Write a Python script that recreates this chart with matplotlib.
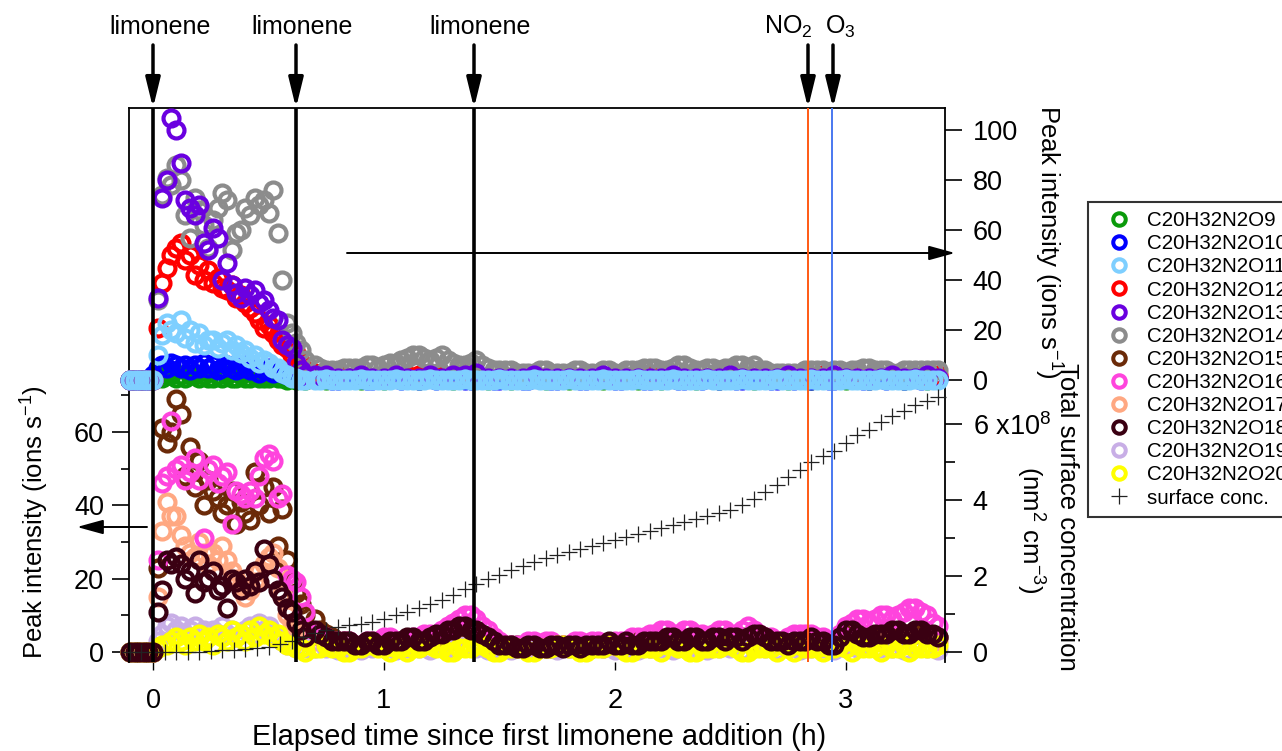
import numpy as np
import matplotlib
matplotlib.use("Agg")
import matplotlib.pyplot as plt
from matplotlib.lines import Line2D

plt.rcParams["font.family"] = ["Liberation Sans", "DejaVu Sans"]
plt.rcParams["mathtext.fontset"] = "custom"
plt.rcParams["mathtext.rm"] = "Liberation Sans"
plt.rcParams["mathtext.it"] = "Liberation Sans:italic"
plt.rcParams["mathtext.bf"] = "Liberation Sans:bold"

W, H = 1282, 751

# --- time grids (h since first limonene addition) ---
t_pre = [-0.10, -0.08, -0.06, -0.04, -0.02]
t_early = [0.00, 0.02, 0.04, 0.06, 0.08, 0.10, 0.12, 0.14, 0.16, 0.18,
           0.20, 0.22, 0.24, 0.26, 0.28, 0.30, 0.32, 0.34, 0.36, 0.38,
           0.40, 0.42, 0.44, 0.46, 0.48, 0.50, 0.52, 0.54, 0.56, 0.58,
           0.60, 0.62, 0.64, 0.66]
t_late = [0.70, 0.75, 0.80, 0.85, 0.90, 0.95, 1.00, 1.05, 1.10, 1.15, 1.20,
          1.25, 1.30, 1.35, 1.40, 1.45, 1.50, 1.55, 1.60, 1.65, 1.70, 1.75,
          1.80, 1.85, 1.90, 1.95, 2.00, 2.05, 2.10, 2.15, 2.20, 2.25, 2.30,
          2.35, 2.40, 2.45, 2.50, 2.55, 2.60, 2.65, 2.70, 2.75, 2.80, 2.85,
          2.90, 2.95, 3.00, 3.05, 3.10, 3.15, 3.20, 3.25, 3.30, 3.35, 3.40]
# extra samples in between, only read for the series that form the dense bands
t_mid = [0.725, 0.775, 0.825, 0.875, 0.925, 0.975, 1.025, 1.075, 1.125, 1.175, 1.225,
         1.275, 1.325, 1.375, 1.425, 1.475, 1.525, 1.575, 1.625, 1.675, 1.725, 1.775,
         1.825, 1.875, 1.925, 1.975, 2.025, 2.075, 2.125, 2.175, 2.225, 2.275, 2.325,
         2.375, 2.425, 2.475, 2.525, 2.575, 2.625, 2.675, 2.725, 2.775, 2.825, 2.875,
         2.925, 2.975, 3.025, 3.075, 3.125, 3.175, 3.225, 3.275, 3.325, 3.375]
pre_zero = [0, 0, 0, 0, 0]

# --- upper panel species (ions s-1) ---
o9_early = [1, 2, 1, 2, 2, 1, 2, 1, 2, 2, 1, 2, 1, 1, 2, 1, 2, 1, 1, 2,
            1, 1, 2, 1, 1, 1, 2, 1, 1, 0, 1, 0, 1, 0]
o9_late = [1, 0, 1, 1, 0, 1, 0, 1, 1, 0, 1,
           1, 0, 1, 1, 0, 1, 0, 1, 1, 0, 1,
           0, 1, 1, 0, 1, 1, 0, 1, 0, 1, 1,
           0, 1, 0, 1, 1, 0, 1, 1, 0, 1, 0,
           1, 1, 0, 1, 0, 1, 1, 0, 1, 0, 1]
o10_early = [2, 5, 6, 5, 7, 6, 5, 6, 4, 6, 5, 7, 5, 6, 4, 5, 6, 5, 4, 5,
             6, 4, 5, 3, 4, 5, 3, 4, 3, 2, 2, 1, 1, 1]
o10_late = [1, 1, 0, 1, 1, 0, 1, 1, 1, 0, 1,
            1, 1, 0, 1, 1, 0, 1, 0, 1, 1, 0,
            1, 0, 1, 1, 0, 1, 1, 0, 1, 1, 0,
            1, 1, 0, 1, 0, 1, 1, 0, 1, 1, 0,
            1, 0, 1, 1, 0, 1, 1, 0, 1, 1, 1]
o10_mid = [1, 0, 1, 1, 0, 1, 1, 0, 1, 1, 0,
           1, 1, 0, 1, 0, 1, 1, 0, 1, 0, 1,
           1, 0, 1, 1, 0, 1, 0, 1, 1, 0, 1,
           0, 1, 1, 0, 1, 1, 0, 1, 0, 1, 1,
           0, 1, 1, 0, 1, 0, 1, 1, 0, 1]
o11_early = [0, 10, 18, 23, 20, 19, 24, 17, 20, 15, 19, 14, 16, 16, 13, 15, 16, 12, 14, 11,
             12, 9, 10, 7, 8, 7, 5, 5, 3, 2, 1, 1, 0, 0]
o11_late = [0, 0.3, 0, 0, 0.3, 0, 0, 0.3, 0, 0, 0.3,
            0, 0, 0.3, 0, 0, 0.3, 0, 0, 0.3, 0, 0,
            0.3, 0, 0, 0.3, 0, 0, 0.3, 0, 0, 0.3, 0,
            0, 0.3, 0, 0, 0.3, 0, 0, 0.3, 0, 0, 0.3,
            0, 0, 0.3, 0, 0, 0.3, 0, 0, 0.3, 0, 0]
o11_mid = [0.2, 0, 0, 0.2, 0, 0, 0.2, 0, 0, 0.2, 0,
           0, 0.2, 0, 0, 0.2, 0, 0, 0.2, 0, 0, 0.2,
           0, 0, 0.2, 0, 0, 0.2, 0, 0, 0.2, 0, 0,
           0.2, 0, 0, 0.2, 0, 0, 0.2, 0, 0, 0.2, 0,
           0, 0.2, 0, 0, 0.2, 0, 0, 0.2, 0, 0]
o12_early = [0, 21, 39, 45, 50, 53, 55, 48, 50, 42, 46, 40, 44, 39, 41, 37, 36, 38, 33, 34,
             31, 29, 27, 24, 21, 22, 19, 16, 14, 13, 10, 11, 7, 4]
o12_late = [3, 2, 2, 1, 2, 1, 2, 1, 2, 2, 1,
            2, 2, 3, 2, 1, 1, 1, 2, 1, 1, 1,
            2, 1, 1, 1, 2, 1, 1, 2, 1, 1, 2,
            1, 1, 2, 1, 1, 1, 2, 1, 1, 1, 1,
            2, 1, 1, 2, 1, 1, 2, 1, 1, 1, 2]
o13_early = [0, 33, 73, 80, 105, 100, 87, 72, 69, 66, 70, 55, 52, 61, 57, 40, 47, 38, 35, 33,
             37, 34, 36, 31, 32, 28, 25, 24, 16, 14, 13, 7, 4, 2]
o13_late = [2, 2, 1, 1, 2, 1, 1, 2, 1, 1, 2,
            1, 2, 2, 3, 1, 1, 1, 1, 2, 1, 1,
            1, 1, 1, 2, 1, 1, 1, 1, 1, 2, 1,
            1, 1, 1, 2, 1, 1, 1, 1, 2, 1, 1,
            1, 2, 1, 1, 1, 1, 2, 1, 1, 2, 1]
o14_early = [0, 32, 74, 81, 78, 86, 80, 66, 57, 73, 68, 62, 53, 64, 69, 75, 72, 52, 59, 60,
             69, 66, 73, 70, 72, 67, 76, 59, 40, 23, 19, 15, 12, 8]
o14_late = [6, 4, 4, 5, 5, 6, 6, 7, 9, 10, 8,
            10, 7, 6, 8, 5, 4, 4, 3, 3, 4, 3,
            3, 4, 3, 4, 3, 4, 4, 5, 4, 5, 6,
            4, 5, 4, 5, 6, 6, 4, 3, 3, 3, 4,
            4, 4, 3, 4, 5, 4, 3, 4, 4, 4, 4]
o14_mid = [5, 4, 5, 5, 6, 5, 7, 8, 10, 9, 9,
           8, 6, 7, 6, 4, 4, 3, 3, 4, 3, 3,
           4, 3, 3, 4, 3, 4, 5, 5, 4, 6, 5,
           4, 5, 5, 6, 5, 4, 3, 3, 3, 4, 4,
           3, 4, 4, 5, 4, 4, 3, 4, 4, 4]

# --- lower panel species (ions s-1) ---
o15_early = [0, 23, 61, 57, 60, 69, 65, 48, 56, 45, 52, 40, 47, 44, 42, 38, 40, 44, 35, 41,
             38, 36, 49, 40, 45, 38, 45, 29, 39, 25, 19, 16, 13, 10]
o15_late = [9, 5, 3, 3, 2, 2, 2, 3, 3, 3, 3,
            4, 5, 6, 5, 4, 2, 2, 2, 1, 2, 1,
            2, 2, 1, 2, 2, 2, 3, 2, 3, 3, 3,
            3, 3, 3, 3, 4, 3, 4, 3, 2, 2, 3,
            3, 2, 4, 5, 4, 4, 4, 5, 5, 5, 4]
o15_mid = [6, 4, 3, 2, 2, 3, 2, 3, 3, 3, 4,
           5, 6, 5, 4, 3, 2, 2, 1, 2, 1, 2,
           2, 1, 2, 2, 2, 3, 2, 3, 3, 3, 3,
           3, 3, 3, 4, 3, 4, 3, 3, 2, 2, 3,
           3, 3, 5, 4, 4, 4, 5, 5, 5, 4]
o16_early = [0, 25, 46, 48, 63, 50, 51, 47, 49, 53, 47, 31, 50, 51, 46, 48, 49, 35, 44, 43,
             42, 44, 42, 48, 53, 54, 52, 42, 43, 21, 20, 19, 15, 11]
o16_late = [5, 4, 3, 3, 2, 3, 4, 3, 3, 4, 5,
            6, 8, 10, 9, 6, 3, 2, 2, 3, 3, 2,
            2, 3, 3, 2, 3, 3, 4, 5, 6, 5, 6,
            5, 4, 6, 5, 6, 6, 4, 3, 4, 5, 5,
            4, 3, 7, 9, 8, 10, 9, 11, 12, 10, 7]
o16_mid = [4, 3, 3, 2, 3, 3, 4, 3, 4, 5, 5,
           7, 9, 10, 7, 4, 2, 2, 3, 2, 3, 2,
           3, 2, 3, 2, 3, 4, 4, 5, 6, 5, 6,
           5, 5, 6, 5, 7, 5, 4, 3, 5, 5, 4,
           3, 5, 8, 9, 9, 10, 10, 12, 11, 8]
o17_early = [0, 15, 33, 41, 37, 37, 32, 29, 27, 26, 30, 27, 24, 27, 25, 29, 25, 22, 20, 18,
             15, 17, 19, 22, 24, 26, 27, 23, 16, 10, 8, 6, 5, 3]
o17_late = [3, 2, 2, 1, 1, 2, 1, 2, 2, 2, 2,
            3, 3, 4, 3, 2, 1, 1, 1, 1, 1, 1,
            1, 1, 1, 1, 1, 1, 2, 1, 2, 2, 2,
            2, 2, 2, 2, 3, 2, 2, 2, 1, 1, 2,
            2, 1, 2, 3, 3, 3, 3, 4, 3, 4, 3]
o18_early = [0, 11, 17, 25, 24, 26, 24, 20, 22, 16, 25, 19, 20, 22, 17, 18, 12, 20, 19, 17,
             20, 18, 22, 19, 28, 24, 20, 17, 15, 12, 11, 8, 6, 4]
o18_late = [6, 4, 3, 3, 2, 3, 2, 3, 4, 3, 4,
            5, 6, 7, 6, 4, 2, 2, 1, 2, 1, 2,
            2, 1, 2, 2, 2, 3, 2, 3, 3, 4, 3,
            4, 3, 4, 4, 3, 5, 4, 3, 2, 3, 4,
            3, 2, 6, 5, 4, 5, 6, 5, 6, 5, 4]
o18_mid = [5, 3, 3, 2, 3, 2, 3, 3, 4, 3, 5,
           6, 7, 6, 5, 3, 2, 1, 2, 1, 2, 1,
           2, 2, 2, 3, 2, 2, 3, 3, 4, 3, 4,
           3, 4, 3, 4, 4, 5, 3, 3, 3, 3, 3,
           2, 4, 6, 4, 5, 5, 6, 5, 6, 5]
o19_early = [0, 3, 5, 7, 8, 6, 7, 5, 6, 7, 5, 6, 4, 6, 5, 7, 5, 6, 4, 5,
             6, 7, 5, 8, 6, 7, 5, 4, 3, 2, 2, 1, 1, 1]
o19_late = [1, 1, 0.5, 1, 0.5, 1, 1, 0.5, 1, 1, 0.5,
            1, 1, 1.5, 1, 0.5, 1, 0.5, 1, 0.5, 1, 0.5,
            1, 0.5, 1, 1, 0.5, 1, 0.5, 1, 1, 0.5, 1,
            1, 0.5, 1, 1, 0.5, 1, 1, 0.5, 1, 0.5, 1,
            1, 0.5, 1, 1, 1.5, 1, 1, 0.5, 1, 1, 0.5]
o20_early = [0, 1, 2, 2, 3, 4, 3, 2, 4, 3, 5, 3, 4, 2, 5, 4, 3, 6, 4, 5,
             3, 6, 4, 7, 5, 6, 4, 5, 3, 2, 2, 1, 1, 0]
o20_late = [1, 2, 1, 0, 1, 2, 1, 1, 0, 1, 2,
            1, 0, 1, 2, 1, 0, 1, 1, 0, 1, 2,
            1, 0, 1, 1, 2, 0, 1, 1, 0, 2, 1,
            0, 1, 1, 2, 0, 1, 1, 0, 1, 2, 1,
            0, 1, 1, 2, 1, 0, 1, 2, 1, 1, 2]
o20_mid = [1, 1, 0, 1, 2, 1, 0, 1, 1, 2, 1,
           0, 1, 1, 2, 0, 1, 1, 0, 1, 1, 2,
           1, 0, 1, 2, 1, 0, 1, 1, 2, 1, 0,
           1, 1, 2, 1, 0, 1, 1, 2, 0, 1, 1,
           1, 2, 0, 1, 1, 2, 1, 0, 1, 1]

# --- total surface concentration (x1e8 nm2 cm-3) ---
t_sc = [-0.10, -0.05, 0.00, 0.05, 0.10, 0.15, 0.20, 0.25, 0.30, 0.35, 0.40,
        0.45, 0.50, 0.55, 0.60, 0.65, 0.70, 0.75, 0.80, 0.85, 0.90, 0.95,
        1.00, 1.05, 1.10, 1.15, 1.20, 1.25, 1.30, 1.35, 1.40, 1.45, 1.50,
        1.55, 1.60, 1.65, 1.70, 1.75, 1.80, 1.85, 1.90, 1.95, 2.00, 2.05,
        2.10, 2.15, 2.20, 2.25, 2.30, 2.35, 2.40, 2.45, 2.50, 2.55, 2.60,
        2.65, 2.70, 2.75, 2.80, 2.85, 2.90, 2.95, 3.00, 3.05, 3.10, 3.15,
        3.20, 3.25, 3.30, 3.35, 3.40]
surface_conc = [0, 0, 0, 0, 0, 0, 0.01, 0.02, 0.04, 0.06, 0.08,
                0.10, 0.13, 0.20, 0.30, 0.40, 0.50, 0.58, 0.65, 0.70, 0.75, 0.80,
                0.88, 0.97, 1.06, 1.16, 1.26, 1.38, 1.50, 1.65, 1.80, 1.92, 2.04,
                2.15, 2.26, 2.37, 2.47, 2.56, 2.64, 2.72, 2.80, 2.88, 2.95, 3.03,
                3.10, 3.18, 3.26, 3.34, 3.42, 3.50, 3.58, 3.66, 3.75, 3.88, 4.02,
                4.20, 4.40, 4.60, 4.80, 5.00, 5.15, 5.30, 5.50, 5.70, 5.85, 6.05,
                6.20, 6.35, 6.50, 6.60, 6.70]

# event times (h)
limonene_times = [0.0, 0.62, 1.39]
no2_time = 2.835
o3_time = 2.94

top_names = ["C20H32N2O9", "C20H32N2O10", "C20H32N2O11",
             "C20H32N2O12", "C20H32N2O13", "C20H32N2O14"]
bottom_names = ["C20H32N2O15", "C20H32N2O16", "C20H32N2O17",
                "C20H32N2O18", "C20H32N2O19", "C20H32N2O20"]
colors = {
    "C20H32N2O9": "#0A9A0A", "C20H32N2O10": "#0000FF", "C20H32N2O11": "#7ECFFF",
    "C20H32N2O12": "#FF0000", "C20H32N2O13": "#6A00E0", "C20H32N2O14": "#8C8C8C",
    "C20H32N2O15": "#6B2A08", "C20H32N2O16": "#FF44DD", "C20H32N2O17": "#FFA882",
    "C20H32N2O18": "#3A0012", "C20H32N2O19": "#C8AEE6", "C20H32N2O20": "#FFFF00",
}


def build(early, late, mid=None):
    t = np.concatenate([t_pre, t_early, t_late])
    y = np.concatenate([pre_zero, early, late])
    if mid is not None:
        t = np.concatenate([t, t_mid])
        y = np.concatenate([y, mid])
    return t, y


top_series = {
    "C20H32N2O9": build(o9_early, o9_late),
    "C20H32N2O10": build(o10_early, o10_late, o10_mid),
    "C20H32N2O11": build(o11_early, o11_late, o11_mid),
    "C20H32N2O12": build(o12_early, o12_late),
    "C20H32N2O13": build(o13_early, o13_late),
    "C20H32N2O14": build(o14_early, o14_late, o14_mid),
}
bottom_series = {
    "C20H32N2O15": build(o15_early, o15_late, o15_mid),
    "C20H32N2O16": build(o16_early, o16_late, o16_mid),
    "C20H32N2O17": build(o17_early, o17_late),
    "C20H32N2O18": build(o18_early, o18_late, o18_mid),
    "C20H32N2O19": build(o19_early, o19_late),
    "C20H32N2O20": build(o20_early, o20_late, o20_mid),
}


def fx(x):
    return x / W


def fy(y):
    return 1 - y / H


fig = plt.figure(figsize=(W / 100, H / 100), dpi=100)
ax = fig.add_axes([fx(129), fy(662), fx(945) - fx(129), fy(108) - fy(662)])
ax_top = ax.twinx()
ax_sc = ax.twinx()

marker_kw = dict(linestyle="none", marker="o", mfc="none", ms=11.5, mew=3.0, clip_on=False)

# lower panel, drawn so that the darkest series ends up on top
for name in ["C20H32N2O15", "C20H32N2O17", "C20H32N2O16",
             "C20H32N2O19", "C20H32N2O20", "C20H32N2O18"]:
    t, y = bottom_series[name]
    ax.plot(t, y, mec=colors[name], **marker_kw)

# upper panel
for name in ["C20H32N2O9", "C20H32N2O10", "C20H32N2O12",
             "C20H32N2O14", "C20H32N2O13", "C20H32N2O11"]:
    t, y = top_series[name]
    ax_top.plot(t, y, mec=colors[name], **marker_kw)

ax_sc.plot(t_sc, surface_conc, linestyle="none", marker="+", ms=11, mew=0.9,
           color="#222222", clip_on=False)

for t in limonene_times:
    ax_sc.axvline(t, color="black", lw=2.6, zorder=5)
ax_sc.axvline(no2_time, color="#FF5A14", lw=1.4, zorder=5)
ax_sc.axvline(o3_time, color="#4A78F0", lw=1.4, zorder=5)

# limits: one frame, three y scales
ax.set_xlim(-0.104, 3.429)
ax.set_ylim(-2.73, 148.4)
ax_top.set_ylim(-112.8, 108.8)
ax_sc.set_ylim(-0.263, 14.32)

ax.set_xticks([0, 1, 2, 3])
ax.tick_params(axis="x", direction="out", length=6, width=1, pad=13, labelsize=19.5)
ax.set_yticks([0, 20, 40, 60])
ax.set_yticks([10, 30, 50, 70], minor=True)
ax.tick_params(axis="y", which="major", direction="out", length=12, width=1.2,
               labelsize=19.5, pad=6)
ax.tick_params(axis="y", which="minor", direction="out", length=6, width=1.2)

ax_top.set_yticks([0, 20, 40, 60, 80, 100])
ax_top.tick_params(axis="y", which="major", direction="out", length=12, width=1.2,
                   labelsize=19.5, pad=8)

ax_sc.set_yticks([0, 2, 4, 6])
ax_sc.set_yticklabels(["0", "2", "4", "6 x10$^{8}$"])
ax_sc.set_yticks([1, 3, 5], minor=True)
ax_sc.tick_params(axis="y", which="major", direction="out", length=12, width=1.2,
                  labelsize=19.5, pad=8)
ax_sc.tick_params(axis="y", which="minor", direction="out", length=7, width=1.2)

ax.spines["bottom"].set_visible(False)
for s in ["left", "top", "right"]:
    ax.spines[s].set_linewidth(1.3)
for a in [ax_top, ax_sc]:
    for s in a.spines.values():
        s.set_visible(False)

# axis titles
fig.text(fx(539), fy(737), "Elapsed time since first limonene addition (h)",
         ha="center", va="center", fontsize=20.8)
fig.text(fx(35), fy(522), "Peak intensity (ions s$^{-1}$)", rotation=90,
         ha="center", va="center", fontsize=18.5)
fig.text(fx(1048), fy(242), "Peak intensity (ions s$^{-1}$)", rotation=270,
         ha="center", va="center", fontsize=18.5)
fig.text(fx(1067), fy(517), "Total surface concentration", rotation=270,
         ha="center", va="center", fontsize=18.5)
fig.text(fx(1030), fy(530), "(nm$^{2}$ cm$^{-3}$)", rotation=270,
         ha="center", va="center", fontsize=18.5)

# event arrows above the frame
arrow_kw = dict(arrowstyle="-|>,head_length=0.9,head_width=0.22", color="black",
                lw=2.5, shrinkA=0, shrinkB=0, mutation_scale=20)
event_arrows = [(153, 160, "limonene"), (296, 302, "limonene"), (474, 480, "limonene"),
                (808, 788, "NO$_2$"), (833, 840, "O$_3$")]
for x_arrow, x_text, label in event_arrows:
    ax_sc.annotate("", xy=(fx(x_arrow), fy(108)), xytext=(fx(x_arrow), fy(45)),
                   xycoords="figure fraction", textcoords="figure fraction",
                   arrowprops=arrow_kw, annotation_clip=False)
    fig.text(fx(x_text), fy(27), label, ha="center", va="center", fontsize=18)

# arrows pointing to the axis each panel uses
side_kw = dict(arrowstyle="-|>,head_length=0.8,head_width=0.22", color="black",
               lw=1.4, shrinkA=0, shrinkB=0, mutation_scale=20)
ax_sc.annotate("", xy=(fx(955), fy(253)), xytext=(fx(347), fy(253)),
               xycoords="figure fraction", textcoords="figure fraction",
               arrowprops=side_kw, annotation_clip=False)
ax_sc.annotate("", xy=(fx(77), fy(527)), xytext=(fx(147), fy(527)),
               xycoords="figure fraction", textcoords="figure fraction",
               arrowprops=side_kw, annotation_clip=False)

# legend (runs off the right edge like the original)
handles = []
labels = []
for name in top_names + bottom_names:
    handles.append(Line2D([], [], linestyle="none", marker="o", mfc="none",
                          mec=colors[name], ms=9, mew=2.9))
    labels.append(name)
handles.append(Line2D([], [], linestyle="none", marker="+", ms=12, mew=0.9,
                      color="#222222"))
labels.append("surface conc.")
leg = fig.legend(handles, labels, loc="upper left",
                 bbox_to_anchor=(fx(1088), fy(202)), bbox_transform=fig.transFigure,
                 frameon=True, fancybox=False, edgecolor="black", fontsize=14.8,
                 labelspacing=0.2, handlelength=2.1, handletextpad=0.3,
                 borderpad=0.45, borderaxespad=0)
leg.get_frame().set_linewidth(1.5)

fig.savefig("out.png", dpi=100)
